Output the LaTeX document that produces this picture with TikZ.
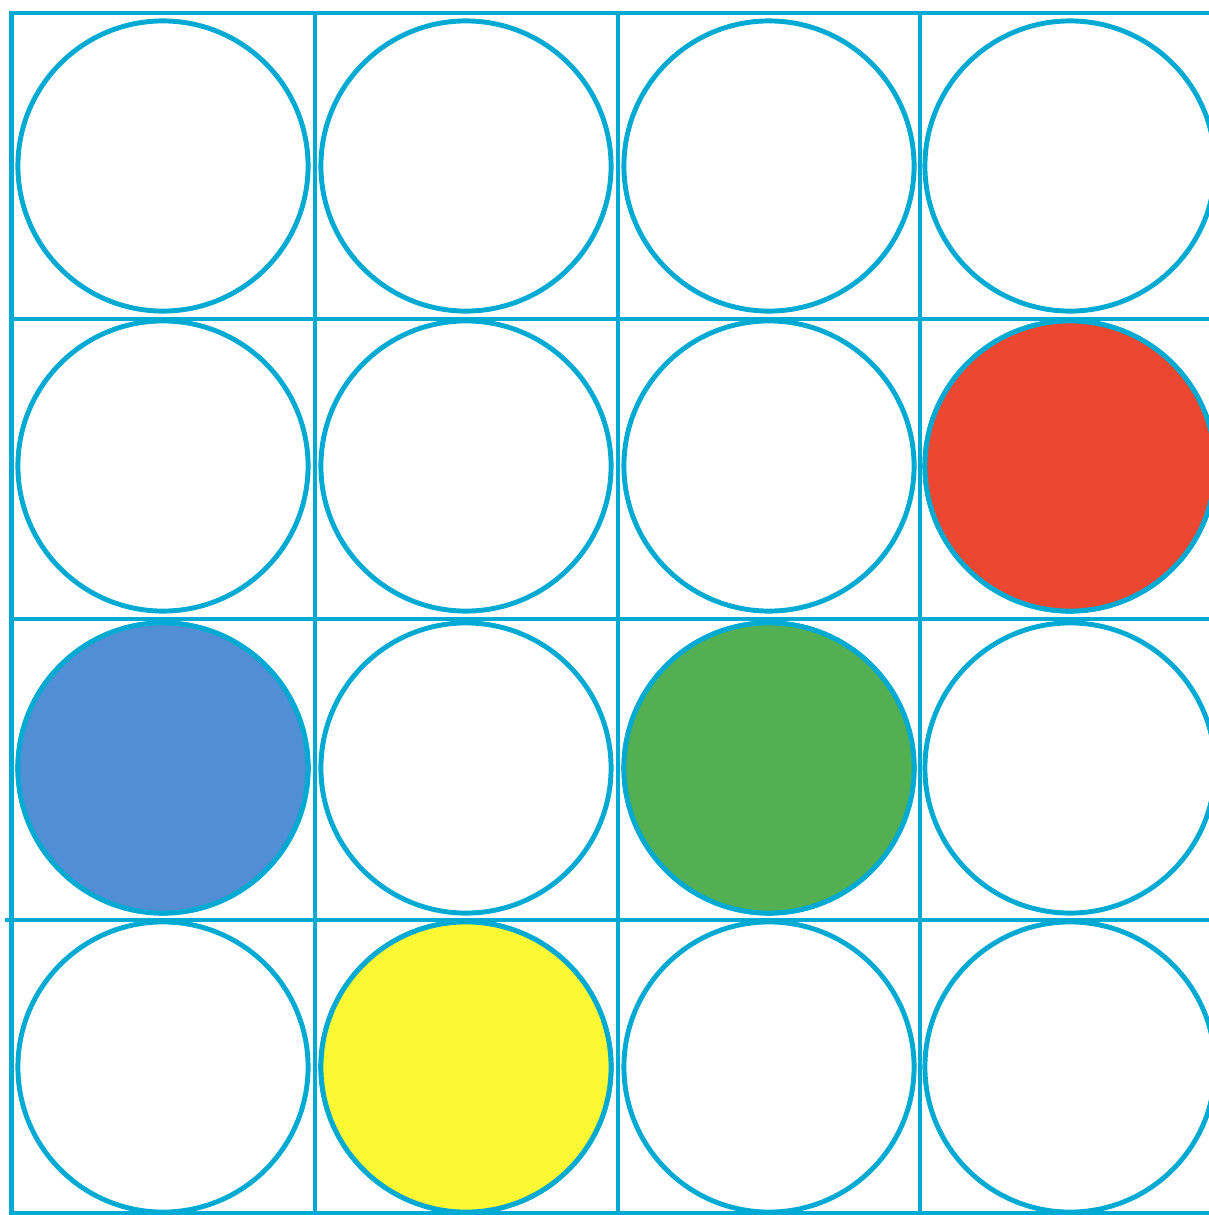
\documentclass[tikz,border=0pt]{standalone}
\usepackage{xcolor}
\usepackage{tikz}
\usetikzlibrary{positioning,calc}

\definecolor{gridblue}{RGB}{0,170,210}
\definecolor{discred}{RGB}{236,71,49}
\definecolor{discblue}{RGB}{82,142,212}
\definecolor{discgreen}{RGB}{82,175,82}
\definecolor{discyellow}{RGB}{252,248,52}

\begin{document}
\begin{tikzpicture}[
    x=0.01cm, y=-0.01cm,
    gridline/.style={draw=gridblue, line width=1.4pt},
    disc/.style={circle, draw=gridblue, line width=1.4pt, minimum size=2.9cm, inner sep=0pt, fill=white}
]
\useasboundingbox (0,0) rectangle (1209,1215);

% Grid
\draw[gridline] (11.5,13) -- (1209,13);
\draw[gridline] (11.5,319) -- (1209,319);
\draw[gridline] (11.5,619) -- (1209,619);
\draw[gridline] (5,920) -- (1209,920);
\draw[gridline] (11.5,1213) -- (1209,1213);
\foreach \x in {11.5,315,618,920}
    \draw[gridline] (\x,11) -- (\x,1215);

% Discs
\foreach \y/\r in {166/1,466/2,768/3,1067/4}
    \foreach \x/\c in {163/1,466/2,769/3,1070/4}
        \node[disc] (d-\r-\c) at (\x,\y) {};

% Coloured discs
\node[disc, fill=discred] (red) at (1070,466) {};
\node[disc, fill=discblue] (blue) at (163,768) {};
\node[disc, fill=discgreen] (green) at (769,768) {};
\node[disc, fill=discyellow] (yellow) at (466,1067) {};
\end{tikzpicture}
\end{document}
